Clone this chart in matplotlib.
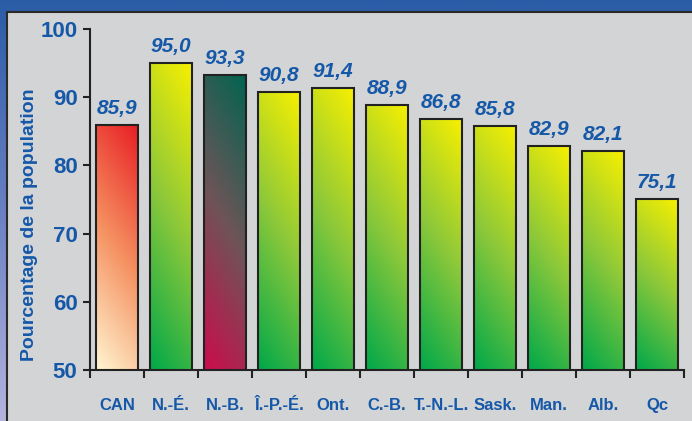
import matplotlib
matplotlib.use("Agg")
import matplotlib.pyplot as plt
import numpy as np
from matplotlib.colors import LinearSegmentedColormap
from matplotlib.patches import Rectangle

categories = ["CAN", "N.-É.", "N.-B.", "Î.-P.-É.", "Ont.", "C.-B.", "T.-N.-L.",
              "Sask.", "Man.", "Alb.", "Qc"]
values = [85.9, 95.0, 93.3, 90.8, 91.4, 88.9, 86.8, 85.8, 82.9, 82.1, 75.1]
value_labels = ["85,9", "95,0", "93,3", "90,8", "91,4", "88,9", "86,8",
                "85,8", "82,9", "82,1", "75,1"]
yticks = [50, 60, 70, 80, 90, 100]
ylabel = "Pourcentage de la population"

BLUE = "#1558a8"
plt.rcParams["font.family"] = ["Liberation Sans", "DejaVu Sans"]

# colormaps go bottom (0) -> top (1)
cm_prov = LinearSegmentedColormap.from_list("prov", ["#00a84a", "#8cc83a", "#f8f000"])
cm_can = LinearSegmentedColormap.from_list("can", ["#fff6d2", "#f59060", "#e81e24"])
cm_nb = LinearSegmentedColormap.from_list("nb", ["#cc0c4c", "#6e5458", "#006450"])
cmaps = [cm_can, cm_prov, cm_nb] + [cm_prov] * 8

W, H = 692, 421
fig = plt.figure(figsize=(W / 100, H / 100), dpi=100)

# outer blue frame with vertical gradient
bg = fig.add_axes([0, 0, 1, 1], zorder=-10)
bg.axis("off")
grad = np.linspace(0, 1, 256).reshape(-1, 1)
bg_cmap = LinearSegmentedColormap.from_list("bg", ["#2a5ca6", "#6a80c4", "#b4b4de"])
bg.imshow(grad, cmap=bg_cmap, aspect="auto", extent=(0, 1, 0, 1), origin="upper")
bg.set_xlim(0, 1)
bg.set_ylim(0, 1)
bg.add_patch(Rectangle((7 / W, -0.05), 1.0, 1 - 12 / H + 0.05, transform=bg.transAxes,
                       facecolor="#d3d4d6", edgecolor="#2a2a2a", linewidth=1.5))

ax = fig.add_axes([90 / W, 1 - 370 / H, (684 - 90) / W, (370 - 29) / H])
ax.patch.set_alpha(0)

x = np.arange(len(categories))
bars = ax.bar(x, values, width=0.78, bottom=0, color="none",
              edgecolor="#222222", linewidth=1.5, zorder=3)

# diagonal gradient inside each bar
uu, vv = np.meshgrid(np.linspace(0, 1, 60), np.linspace(1, 0, 120))
for b, cmap in zip(bars, cmaps):
    t = np.clip(0.8 * vv + 0.2 * uu, 0, 1)
    x0 = b.get_x()
    im = ax.imshow(cmap(t), extent=(x0, x0 + b.get_width(), 50, b.get_height()),
                   aspect="auto", zorder=2, interpolation="bilinear")
    im.set_clip_path(b)

for xi, v, lab in zip(x, values, value_labels):
    ax.annotate(lab, (xi, v), xytext=(0, 5), textcoords="offset points",
                ha="center", va="bottom", color=BLUE, fontsize=15,
                fontweight="bold", fontstyle="italic")

ax.set_xlim(-0.5, len(categories) - 0.5)
ax.set_ylim(50, 100)
ax.set_yticks(yticks)
ax.set_yticklabels([str(t) for t in yticks], color=BLUE, fontsize=16, fontweight="bold")
ax.set_xticks(x)
ax.set_xticklabels(categories, color=BLUE, fontsize=12, fontweight="bold")
ax.set_xticks(np.arange(-0.5, len(categories)), minor=True)
ax.tick_params(axis="x", which="major", length=0, pad=20)
ax.tick_params(axis="x", which="minor", length=6, width=1.5, color="#222222")
ax.tick_params(axis="y", length=5, width=1.5, color="#222222", pad=4)
for s in ["top", "right"]:
    ax.spines[s].set_visible(False)
for s in ["left", "bottom"]:
    ax.spines[s].set_color("#222222")
    ax.spines[s].set_linewidth(1.5)

fig.text(30 / W, 1 - 225 / H, ylabel, rotation=90, ha="center", va="center",
         color=BLUE, fontsize=14, fontweight="bold")

fig.savefig("out.png", dpi=100)
